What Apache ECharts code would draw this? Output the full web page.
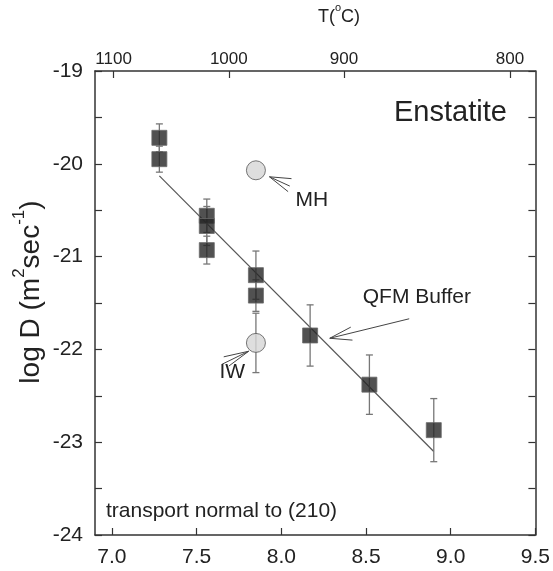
<!DOCTYPE html>
<html><head><meta charset="utf-8">
<script src="https://cdn.jsdelivr.net/npm/echarts@6/dist/echarts.min.js"></script>
<style>html,body{margin:0;padding:0;background:#fff}#c{width:553px;height:571px}</style>
</head><body><div id="c"></div>
<script>
// ---- data ----
const xTickValues = [7.0, 7.5, 8.0, 8.5, 9.0, 9.5];
const topTickLabels = [1100, 1000, 900, 800];
const topTickValues = [7.01, 7.69, 8.37, 9.35];
const sqX   = [7.28, 7.28, 7.56, 7.56, 7.56, 7.85, 7.85, 8.17, 8.52, 8.90];
const sqY   = [-19.72, -19.95, -20.56, -20.67, -20.93, -21.20, -21.42, -21.85, -22.38, -22.87];
const sqErr = [0.15, 0.14, 0.18, 0.21, 0.15, 0.26, 0.17, 0.33, 0.32, 0.34];
const circleNames = ['MH', 'IW'];
const circleX   = [7.85, 7.85];
const circleY   = [-20.07, -21.93];
const circleErr = [0, 0.32];
const fitX = [7.28, 8.90];
const fitY = [-20.13, -23.10];
const noteText = ['MH', 'IW', 'QFM Buffer'];
const noteX = [8.18, 7.71, 8.80];
const noteY = [-20.39, -22.25, -21.44];
const arrowTip = [[7.93, -20.14], [7.807, -22.02], [8.286, -21.88]];
const arrowEnds = [
  [[8.06, -20.16], [8.05, -20.24], [8.04, -20.30]],
  [[7.65, -22.16], [7.66, -22.08], [7.69, -22.18]],
  [[8.755, -21.67], [8.41, -21.76], [8.42, -21.90]]
];

// ---- build ----
const FONT = 'Liberation Sans, Arial, sans-serif';
const sqData = sqX.map((x, i) => [x, sqY[i], sqErr[i]]);
const circData = circleX.map((x, i) => [x, circleY[i], circleErr[i], circleNames[i]]);
const errData = sqData.concat(circData.map(d => [d[0], d[1], d[2]]));
const segData = [];
arrowTip.forEach((t, i) => arrowEnds[i].forEach(e => segData.push([t[0], t[1], e[0], e[1]])));
const noteData = noteX.map((x, i) => [x, noteY[i], noteText[i]]);

const chart = echarts.init(document.getElementById('c'), null, {renderer: 'canvas'});
const axisLineStyle = {color: '#333', width: 1.5};
chart.setOption({
  animation: false,
  backgroundColor: '#fff',
  grid: {left: 95, right: 14, top: 71, bottom: 36},
  xAxis: [{
    type: 'value', min: 6.9, max: 9.5, position: 'bottom',
    axisLine: {show: true, onZero: false, lineStyle: axisLineStyle},
    axisTick: {show: true, inside: true, length: 7, customValues: xTickValues, lineStyle: {color: '#333', width: 1.2}},
    axisLabel: {customValues: xTickValues, formatter: v => Number(v).toFixed(1), fontSize: 21, color: '#222', fontFamily: FONT, margin: 12},
    splitLine: {show: false}
  }, {
    type: 'value', min: 6.9, max: 9.5, position: 'top',
    axisLine: {show: true, onZero: false, lineStyle: axisLineStyle},
    axisTick: {show: true, inside: true, length: 7, customValues: topTickValues, lineStyle: {color: '#333', width: 1.2}},
    axisLabel: {customValues: topTickValues, formatter: v => {
      const i = topTickValues.findIndex(t => Math.abs(t - v) < 1e-6);
      return i >= 0 ? String(topTickLabels[i]) : '';
    }, fontSize: 17, color: '#222', fontFamily: FONT, margin: 3},
    splitLine: {show: false}
  }],
  yAxis: [{
    type: 'value', min: -24, max: -19, interval: 0.5, position: 'left',
    axisLine: {show: true, onZero: false, lineStyle: axisLineStyle},
    axisTick: {show: true, inside: true, length: 7, lineStyle: {color: '#333', width: 1.2}},
    axisLabel: {formatter: v => Number.isInteger(v) ? String(v) : '', fontSize: 21, color: '#222', fontFamily: FONT, margin: 12},
    splitLine: {show: false}
  }, {
    type: 'value', min: -24, max: -19, interval: 0.5, position: 'right',
    axisLine: {show: true, onZero: false, lineStyle: axisLineStyle},
    axisTick: {show: true, inside: true, length: 7, lineStyle: {color: '#333', width: 1.2}},
    axisLabel: {show: false},
    splitLine: {show: false}
  }],
  graphic: [
    {type: 'text', left: 318, top: 2, style: {
      text: '{a|T(}{s|o}{a|C)}', rich: {
        a: {fontSize: 18, fontFamily: FONT, fill: '#222', lineHeight: 24, verticalAlign: 'bottom'},
        s: {fontSize: 11, fontFamily: FONT, fill: '#222', lineHeight: 24, verticalAlign: 'top'}
      }}},
    {type: 'text', x: 28, y: 292, rotation: Math.PI / 2, style: {
      text: '{a|log D (m}{s|2}{a|sec}{s|-1}{a|)}', align: 'center', verticalAlign: 'middle', rich: {
        a: {fontSize: 28, fontFamily: FONT, fill: '#222', lineHeight: 34, verticalAlign: 'bottom'},
        s: {fontSize: 17, fontFamily: FONT, fill: '#222', lineHeight: 34, verticalAlign: 'top'}
      }}},
    {type: 'text', x: 394, y: 113, style: {text: 'Enstatite', fontSize: 29, fontFamily: FONT, fill: '#222', verticalAlign: 'middle'}},
    {type: 'text', x: 106, y: 511, style: {text: 'transport normal to (210)', fontSize: 21, fontFamily: FONT, fill: '#222', verticalAlign: 'middle'}}
  ],
  series: [
    {
      type: 'line', data: fitX.map((x, i) => [x, fitY[i]]), symbol: 'none',
      lineStyle: {color: '#555', width: 1.2}, z: 2
    },
    {
      type: 'custom', data: errData, z: 3,
      renderItem: (params, api) => {
        const x = api.value(0), y = api.value(1), e = api.value(2);
        if (!e) return null;
        const t = api.coord([x, y + e]), b = api.coord([x, y - e]);
        const w = 3.5, st = {stroke: '#777', lineWidth: 1.3};
        return {type: 'group', children: [
          {type: 'line', shape: {x1: t[0], y1: t[1], x2: b[0], y2: b[1]}, style: st},
          {type: 'line', shape: {x1: t[0] - w, y1: t[1], x2: t[0] + w, y2: t[1]}, style: st},
          {type: 'line', shape: {x1: b[0] - w, y1: b[1], x2: b[0] + w, y2: b[1]}, style: st}
        ]};
      }
    },
    {
      type: 'custom', data: segData, z: 3,
      renderItem: (params, api) => {
        const a = api.coord([api.value(0), api.value(1)]), b = api.coord([api.value(2), api.value(3)]);
        return {type: 'line', shape: {x1: a[0], y1: a[1], x2: b[0], y2: b[1]}, style: {stroke: '#444', lineWidth: 1}};
      }
    },
    {
      type: 'scatter', data: sqData, symbol: 'rect', symbolSize: 15, z: 5,
      itemStyle: {color: '#262626', borderColor: '#6a6a6a', borderWidth: 1}
    },
    {
      type: 'scatter', data: circData, symbol: 'circle', symbolSize: 19, z: 5,
      itemStyle: {color: '#d6d6d6', borderColor: '#555', borderWidth: 1}
    },
    {
      type: 'custom', data: noteData, z: 6,
      renderItem: (params, api) => {
        const p = api.coord([api.value(0), api.value(1)]);
        return {type: 'text', x: p[0], y: p[1], style: {text: noteText[params.dataIndex], fontSize: 21, fontFamily: FONT, fill: '#222', align: 'center', verticalAlign: 'middle'}};
      }
    }
  ]
});
</script></body></html>
